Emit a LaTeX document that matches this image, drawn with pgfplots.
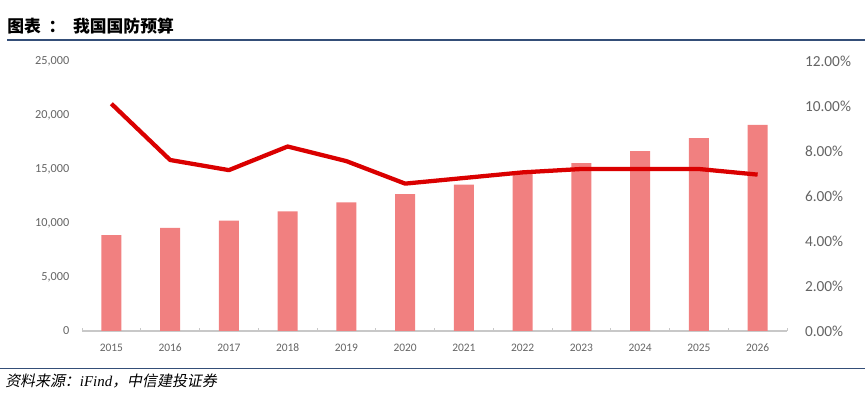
\documentclass[border=0pt]{standalone}
\usepackage{pgfplots}
\pgfplotsset{compat=1.18}
\usepackage{fontspec}
\setmainfont{Carlito}
\newfontfamily\cjk{Noto Sans CJK SC}
\newfontfamily\cjkit[FakeSlant=0.2]{Noto Sans CJK SC}
\newfontfamily\serifit{Liberation Serif}
\definecolor{barred}{RGB}{241,128,128}
\definecolor{linered}{RGB}{218,0,0}
\definecolor{ticktext}{RGB}{100,100,100}
\definecolor{axgray}{RGB}{200,200,200}
\definecolor{hdrblue}{RGB}{52,78,120}
\begin{document}
\begin{tikzpicture}
\path[use as bounding box] (0,0) rectangle (648.75pt,297pt);
% header (y in pt = (396 - ypx)*0.75)
\node[anchor=base west,inner sep=0pt,font=\cjk\bfseries\fontsize{12.6}{14}\selectfont] at (5.25pt,272.25pt) {图表\ \ ：\ \ 我国国防预算};
\draw[hdrblue,line width=1.5pt] (5.25pt,267pt) -- (648.75pt,267pt);
\draw[hdrblue,line width=0.6pt] (0pt,21pt) -- (648.75pt,21pt);
\node[anchor=base west,inner sep=0pt,font=\cjkit\fontsize{11.2}{12}\selectfont] at (3.75pt,6.75pt) {资料来源：{\serifit\itshape iFind}，中信建投证券};
% left axis with bars
\begin{axis}[
  at={(61.5pt,48.75pt)}, anchor=south west, scale only axis,
  width=528.75pt, height=202.5pt,
  xmin=-0.5, xmax=11.5, ymin=0, ymax=25000,
  scaled y ticks=false,
  xtick={0,...,11},
  xticklabels={2015,2016,2017,2018,2019,2020,2021,2022,2023,2024,2025,2026},
  minor xtick={-0.5,0.5,...,11.5},
  ytick={0,5000,...,25000},
  yticklabels={0,{5,000},{10,000},{15,000},{20,000},{25,000}},
  axis x line*=bottom, axis y line*=left,
  y axis line style={draw=none},
  x axis line style={draw=axgray, line width=0.8pt, -},
  major x tick style={draw=none},
  minor x tick style={draw=axgray, line width=0.6pt},
  minor tick length=2.5pt,
  xticklabel style={font=\fontsize{8.6}{9}\selectfont, text=ticktext, yshift=-6pt},
  yticklabel style={font=\fontsize{9.2}{10}\selectfont, text=ticktext, xshift=-6pt},
  /pgf/number format/assume math mode=true,
  ytick style={draw=none},
  clip=false,
]
\addplot[ybar, bar width=15pt, fill=barred, draw=none] coordinates {
(0,8869) (1,9544) (2,10226) (3,11070) (4,11899) (5,12680) (6,13553) (7,14760) (8,15537) (9,16655) (10,17847) (11,19096)
};
\end{axis}
% right axis with growth line
\begin{axis}[
  at={(61.5pt,48.75pt)}, anchor=south west, scale only axis,
  width=528.75pt, height=202.5pt,
  xmin=-0.5, xmax=11.5, ymin=0, ymax=12,
  axis x line=none,
  axis y line*=right,
  y axis line style={draw=none},
  ytick={0,2,...,12},
  yticklabels={0.00\%,2.00\%,4.00\%,6.00\%,8.00\%,10.00\%,12.00\%},
  ytick style={draw=none},
  yticklabel style={font=\fontsize{11.5}{12}\selectfont, text=ticktext, anchor=west, xshift=10pt},
  /pgf/number format/assume math mode=true,
]
\addplot[linered, line width=3.2pt, line join=round] coordinates {
(0,10.1) (1,7.6) (2,7.15) (3,8.2) (4,7.55) (5,6.55) (6,6.8) (7,7.05) (8,7.2) (9,7.2) (10,7.2) (11,6.95)
};
\end{axis}
\end{tikzpicture}
\end{document}
